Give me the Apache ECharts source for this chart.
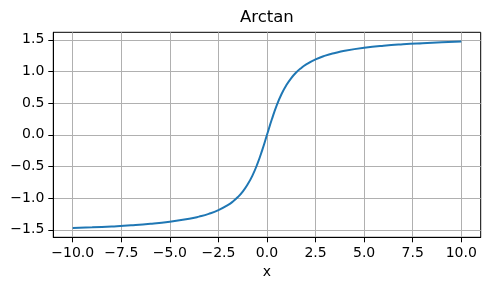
<!DOCTYPE html>
<html><head><meta charset="utf-8">
<script src="https://cdn.jsdelivr.net/npm/echarts@6/dist/echarts.min.js"></script>
<style>html,body{margin:0;padding:0;background:#fff}#c{width:490px;height:290px}</style>
</head><body><div id="c"></div>
<script>
const xValues = [-10,-9,-8,-7,-6,-5,-4,-3.5,-3,-2.5,-2,-1.75,-1.5,-1.25,-1,-0.75,-0.5,-0.25,0,0.25,0.5,0.75,1,1.25,1.5,1.75,2,2.5,3,3.5,4,5,6,7,8,9,10];
const yValues = [-1.471,-1.460,-1.446,-1.429,-1.406,-1.373,-1.326,-1.292,-1.249,-1.190,-1.107,-1.052,-0.983,-0.896,-0.785,-0.644,-0.464,-0.245,0,0.245,0.464,0.644,0.785,0.896,0.983,1.052,1.107,1.190,1.249,1.292,1.326,1.373,1.406,1.429,1.446,1.460,1.471];
const xTicks = [-10,-7.5,-5,-2.5,0,2.5,5,7.5,10];
const yTicks = [-1.5,-1,-0.5,0,0.5,1,1.5];
const titleText = 'Arctan';
const xName = 'x';

const fmt = v => { const s = Number(v).toFixed(1); return s.replace('-', '\u2212'); };
const font = 'DejaVu Sans';
const chart = echarts.init(document.getElementById('c'), null, {renderer:'canvas'});
chart.setOption({
  animation: false,
  backgroundColor: '#fff',
  title: { text: titleText, left: 240, top: 9, padding: 0,
    textStyle: { fontFamily: font, fontSize: 16.5, fontWeight: 'normal', color: '#000' } },
  grid: { left: 53.3, right: 9.3, top: 32.3, bottom: 52.7, show: true, borderColor: '#000', borderWidth: 1, backgroundColor: 'transparent' },
  xAxis: {
    type: 'value', min: -11, max: 11,
    name: xName, nameLocation: 'middle', nameGap: 27,
    nameTextStyle: { fontFamily: font, fontSize: 14, color: '#000' },
    axisLine: { show: true, onZero: false, lineStyle: { color: '#000', width: 1 } },
    axisTick: { show: true, inside: false, length: 5, customValues: xTicks, lineStyle: { color: '#000', width: 1 } },
    axisLabel: { customValues: xTicks, formatter: fmt, margin: 9, fontFamily: font, fontSize: 14, color: '#000' },
    splitLine: { show: true, lineStyle: { color: '#b0b0b0', width: 1 } }
  },
  yAxis: {
    type: 'value', min: -1.618, max: 1.618,
    axisLine: { show: true, onZero: false, lineStyle: { color: '#000', width: 1 } },
    axisTick: { show: true, inside: false, length: 5, customValues: yTicks, lineStyle: { color: '#000', width: 1 } },
    axisLabel: { customValues: yTicks, formatter: fmt, margin: 9, fontFamily: font, fontSize: 14, color: '#000' },
    splitLine: { show: true, lineStyle: { color: '#b0b0b0', width: 1 } }
  },
  series: [{
    type: 'line', data: xValues.map((x, i) => [x, yValues[i]]),
    showSymbol: false, smooth: true, lineStyle: { color: '#1f77b4', width: 2 }, z: 5
  }]
});
</script></body></html>
